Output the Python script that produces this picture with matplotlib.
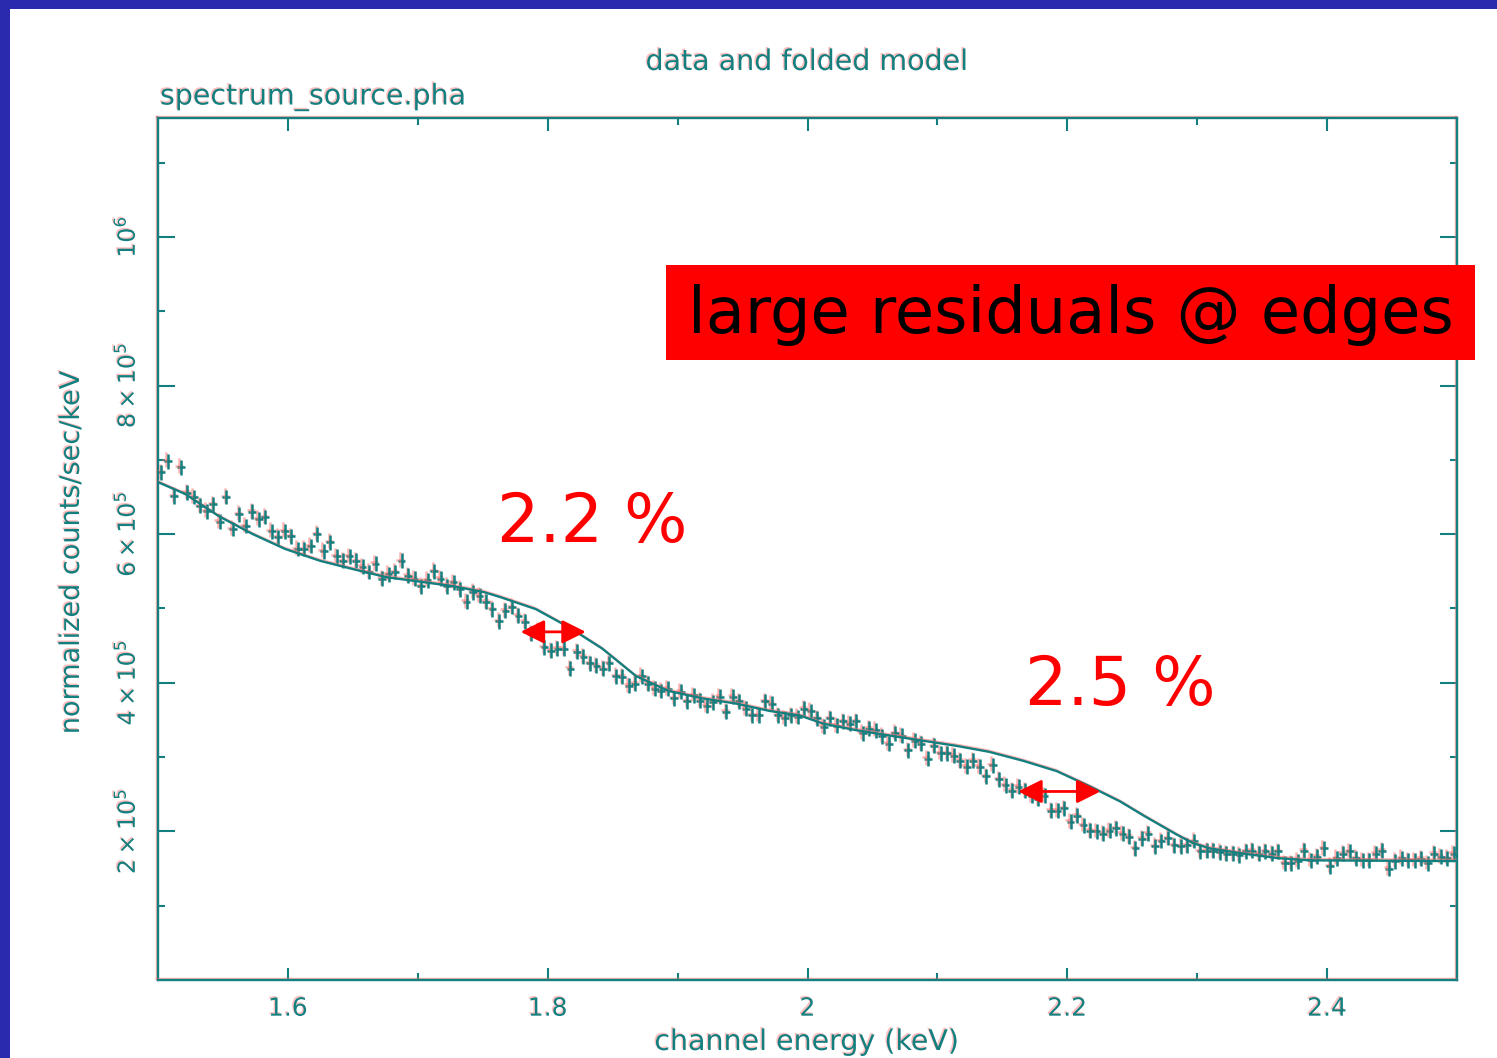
import numpy as np
import matplotlib
matplotlib.use('Agg')
import matplotlib.pyplot as plt
from matplotlib.patches import Rectangle
import matplotlib.patheffects as pe

# ---------------- data (counts in units of 1e5 normalized counts/sec/keV) -------------
bin_start = 1.5        # keV
bin_width = 0.005      # keV
n_bins = 200

data_counts = [
    6.83, 6.98, 6.51, 6.90, 6.56, 6.50, 6.38, 6.31, 6.40, 6.17,
    6.50, 6.07, 6.27, 6.11, 6.30, 6.20, 6.23, 6.04, 5.96, 6.04,
    5.97, 5.80, 5.80, 5.84, 6.00, 5.77, 5.89, 5.70, 5.64, 5.70,
    5.64, 5.56, 5.49, 5.60, 5.40, 5.46, 5.49, 5.64, 5.44, 5.40,
    5.30, 5.38, 5.50, 5.40, 5.30, 5.35, 5.26, 5.09, 5.22, 5.17,
    5.09, 4.99, 4.83, 4.97, 5.02, 4.90, 4.82, 4.66, 4.70, 4.48,
    4.43, 4.46, 4.46, 4.19, 4.42, 4.35, 4.26, 4.23, 4.19, 4.26,
    4.09, 4.08, 3.96, 3.99, 4.09, 3.99, 3.92, 3.89, 3.92, 3.79,
    3.88, 3.75, 3.83, 3.76, 3.69, 3.74, 3.81, 3.61, 3.81, 3.75,
    3.65, 3.56, 3.56, 3.75, 3.72, 3.56, 3.52, 3.56, 3.54,
    3.65, 3.62, 3.52, 3.41, 3.52, 3.42, 3.48, 3.45, 3.48, 3.32,
    3.38, 3.36, 3.28, 3.18, 3.32, 3.29, 3.09, 3.22, 3.18, 2.98,
    3.15, 3.05, 3.05, 3.02, 2.95, 2.87, 2.95, 2.87, 2.74, 2.89,
    2.70, 2.62, 2.55, 2.60, 2.55, 2.48, 2.44, 2.48, 2.28, 2.28,
    2.31, 2.13, 2.21, 2.08, 2.01, 2.00, 1.97, 2.01,
    2.04, 1.97, 1.93, 1.77, 1.90, 1.97, 1.80, 1.87, 1.91, 1.81,
    1.80, 1.81, 1.87, 1.73, 1.74, 1.74, 1.72, 1.70, 1.70, 1.68,
    1.73, 1.74, 1.70, 1.73, 1.70, 1.73, 1.57, 1.57, 1.60, 1.74,
    1.61, 1.66, 1.77, 1.53, 1.64, 1.70, 1.73, 1.64, 1.61, 1.61,
    1.70, 1.74, 1.50, 1.60, 1.64, 1.61, 1.61, 1.63, 1.57, 1.70,
    1.66, 1.64, 1.70,
]
data_err = 0.10    # 1e5 units

model_energy = [1.500, 1.521, 1.547, 1.573, 1.598, 1.625, 1.650, 1.676, 1.702, 1.727,
                1.751, 1.764, 1.791, 1.816, 1.842, 1.868, 1.893, 1.919, 1.945, 1.971,
                1.994, 2.012, 2.038, 2.063, 2.089, 2.115, 2.140, 2.166, 2.192, 2.218,
                2.241, 2.259, 2.285, 2.297, 2.310, 2.336, 2.362, 2.387, 2.500]
model_counts = [6.70, 6.54, 6.24, 6.00, 5.80, 5.64, 5.53, 5.42, 5.36, 5.30,
                5.22, 5.15, 4.99, 4.75, 4.46, 4.09, 3.89, 3.79, 3.72, 3.62,
                3.56, 3.45, 3.36, 3.29, 3.22, 3.15, 3.07, 2.95, 2.81, 2.60,
                2.40, 2.21, 1.95, 1.84, 1.77, 1.70, 1.64, 1.61, 1.60]

x_major = [1.6, 1.8, 2.0, 2.2, 2.4]
x_major_labels = ['1.6', '1.8', '2', '2.2', '2.4']
x_minor = [1.7, 1.9, 2.1, 2.3]
y_major = [2e5, 4e5, 6e5, 8e5, 1e6]
y_major_labels = [r'$2\times10^{5}$', r'$4\times10^{5}$', r'$6\times10^{5}$',
                  r'$8\times10^{5}$', r'$10^{6}$']
y_minor = [1e5, 3e5, 5e5, 7e5, 9e5, 1.1e6]

# ---------------- figure -------------
W, H = 1497, 1058
TEAL = '#147f7f'
FRINGE = [pe.SimpleLineShadow(offset=(-1.0, 1.0), shadow_color='#ff7070', alpha=0.55),
          pe.Normal()]
TFRINGE = [pe.withSimplePatchShadow(offset=(-1.0, 1.0), shadow_rgbFace='#ff8080', alpha=0.5)]

fig = plt.figure(figsize=(W / 100, H / 100), dpi=100, facecolor='#2a2aae')


def fx(px):
    return px / W


def fy(py):
    return 1 - py / H


fig.patches.append(Rectangle((fx(10), 0), 1 - fx(10), fy(9), transform=fig.transFigure,
                             facecolor='white', edgecolor='none', zorder=-1))

ax = fig.add_axes([fx(158), fy(980), fx(1457) - fx(158), fy(118) - fy(980)])
ax.set_facecolor('white')

energy = bin_start + bin_width * (np.arange(n_bins) + 0.5)
counts = np.array(data_counts) * 1e5

eb = ax.errorbar(energy, counts, xerr=0.003, yerr=data_err * 1e5, fmt='none',
                 ecolor=TEAL, elinewidth=1.8, capsize=0, zorder=3)
for c in eb[2]:
    c.set_path_effects(FRINGE)

ln, = ax.plot(model_energy, np.array(model_counts) * 1e5, color=TEAL, lw=1.7, zorder=4)
ln.set_path_effects(FRINGE)

ax.set_xlim(1.5, 2.5)
ax.set_ylim(0, 1.16e6)
ax.set_xticks(x_major)
ax.set_xticklabels(x_major_labels)
ax.set_xticks(x_minor, minor=True)
ax.set_yticks(y_major)
ax.set_yticklabels(y_major_labels)
ax.set_yticks(y_minor, minor=True)

ax.tick_params(which='both', direction='in', top=True, right=True, color=TEAL, width=1.5)
ax.tick_params(axis='x', which='major', length=9, pad=12, labelsize=18, labelcolor=TEAL)
ax.tick_params(axis='x', which='minor', length=5)
ax.tick_params(axis='y', which='major', length=12, pad=13, labelsize=17, labelcolor=TEAL,
               labelrotation=90)
ax.tick_params(axis='y', which='minor', length=5)
for lab in ax.get_yticklabels():
    lab.set_va('center')
for lab in ax.get_xticklabels() + ax.get_yticklabels():
    lab.set_path_effects(TFRINGE)
for sp in ax.spines.values():
    sp.set_color(TEAL)
    sp.set_linewidth(1.7)
    sp.set_path_effects(FRINGE)

# ---------------- texts -------------
kw = dict(color=TEAL, path_effects=TFRINGE)
fig.text(fx(807), fy(62), 'data and folded model', ha='center', va='center', fontsize=20.5, **kw)
fig.text(fx(160), fy(97), 'spectrum_source.pha', ha='left', va='center', fontsize=20.5, **kw)
fig.text(fx(807), fy(1042), 'channel energy (keV)', ha='center', va='center', fontsize=20.5, **kw)
fig.text(fx(72), fy(552), 'normalized counts/sec/keV', ha='center', va='center',
         rotation=90, fontsize=19.5, **kw)

fig.patches.append(Rectangle((fx(666), fy(360)), fx(1475) - fx(666), fy(265) - fy(360),
                             transform=fig.transFigure, facecolor='#ff0000',
                             edgecolor='none', zorder=5))
fig.text(fx(1071), fy(315), 'large residuals @ edges', ha='center', va='center',
         fontsize=46, color='black', zorder=6)

fig.text(fx(592), fy(523), '2.2 %', ha='center', va='center', fontsize=48, color='#ff0000', zorder=6)
fig.text(fx(1120), fy(686), '2.5 %', ha='center', va='center', fontsize=48, color='#ff0000', zorder=6)

arrow = dict(arrowstyle='<|-|>,head_length=0.72,head_width=0.36', color='#ff0000', lw=2,
             shrinkA=0, shrinkB=0, mutation_scale=20)
ax.annotate('', xy=(1.8293, 4.685e5), xytext=(1.7792, 4.685e5), arrowprops=arrow, zorder=6)
ax.annotate('', xy=(2.2255, 2.537e5), xytext=(2.1622, 2.537e5), arrowprops=arrow, zorder=6)

fig.savefig('out.png', dpi=100, facecolor=fig.get_facecolor())
